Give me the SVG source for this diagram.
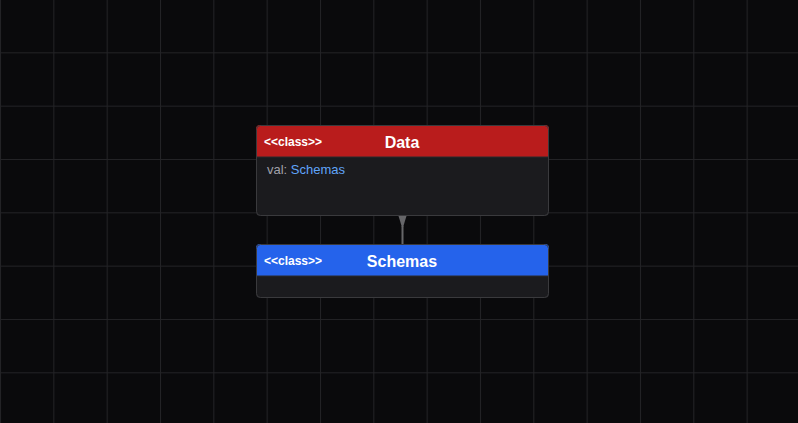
<svg xmlns="http://www.w3.org/2000/svg" width="798" height="423" viewBox="0 0 798 423">
<defs>
<pattern id="grid" x="0" y="-1" width="53.33" height="53.33" patternUnits="userSpaceOnUse">
<path d="M0.5 0V53.33M0 0.5H53.33" stroke="#232326" stroke-width="1" fill="none"/>
</pattern>
<clipPath id="c1"><rect x="256" y="125" width="293" height="91" rx="4"/></clipPath>
<clipPath id="c2"><rect x="256" y="244" width="293" height="54" rx="4"/></clipPath>
</defs>
<style>
.body{fill:#1b1b1e}
.border{fill:none;stroke:#3a3a3d;stroke-width:1}
.stereo{font-family:"Liberation Sans",Arial,sans-serif;font-size:12px;font-weight:bold;fill:#ffffff}
.title{font-family:"Liberation Sans",Arial,sans-serif;font-size:16px;font-weight:bold;fill:#ffffff;text-anchor:middle}
.attr{font-family:"Liberation Sans",Arial,sans-serif;font-size:13px;fill:#a1a1aa}
.type{fill:#60a5fa}
</style>
<rect width="798" height="423" fill="#0a0a0c"/>
<rect width="798" height="423" fill="url(#grid)"/>
<g id="connectors">
<line x1="402.5" y1="226" x2="402.5" y2="244" stroke="#666669" stroke-width="2"/>
<polygon points="398.5,216 406.5,216 402.5,229" fill="#666669"/>
</g>
<g id="node-Data">
<g clip-path="url(#c1)">
<rect x="256" y="125" width="293" height="91" class="body"/>
<rect x="256" y="125" width="293" height="32" fill="#b91c1c"/>
<line x1="256" y1="157" x2="549" y2="157" stroke="#2a2a2d"/>
</g>
<rect x="256.5" y="125.5" width="292" height="90" rx="4" class="border"/>
<text x="264" y="146" class="stereo">&lt;&lt;class&gt;&gt;</text>
<text x="402" y="148" class="title">Data</text>
<text x="267" y="174" class="attr">val: <tspan class="type">Schemas</tspan></text>
</g>
<g id="node-Schemas">
<g clip-path="url(#c2)">
<rect x="256" y="244" width="293" height="54" class="body"/>
<rect x="256" y="244" width="293" height="32" fill="#2563eb"/>
<line x1="256" y1="276" x2="549" y2="276" stroke="#2a2a2d"/>
</g>
<rect x="256.5" y="244.5" width="292" height="53" rx="4" class="border"/>
<text x="264" y="265" class="stereo">&lt;&lt;class&gt;&gt;</text>
<text x="402" y="267" class="title">Schemas</text>
</g>
</svg>
